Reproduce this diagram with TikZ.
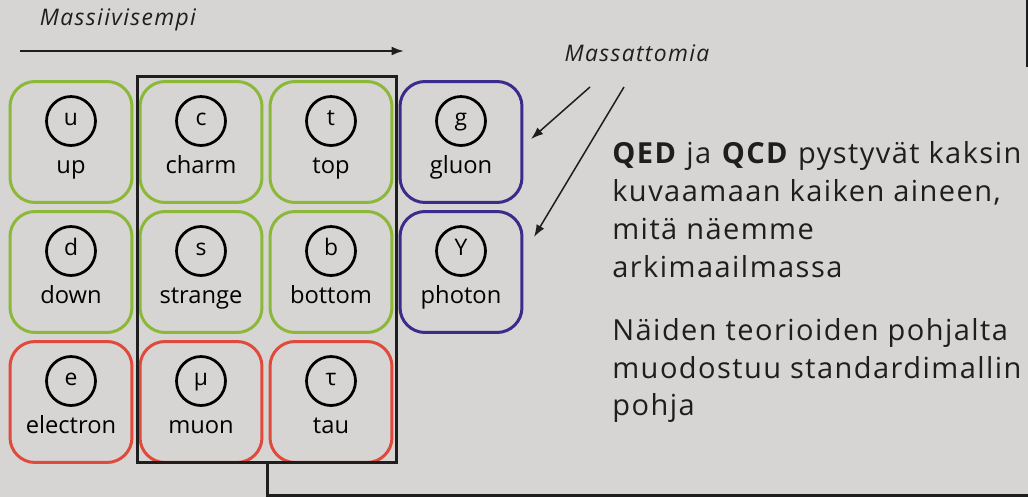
\documentclass[tikz,border=0pt]{standalone}
\usepackage{fontspec}
\setmainfont{Open Sans}
\usetikzlibrary{positioning,arrows.meta}
\definecolor{bg}{RGB}{214,213,211}
\definecolor{qgreen}{RGB}{140,184,56}
\definecolor{lred}{RGB}{224,74,60}
\definecolor{bblue}{RGB}{58,44,138}
\definecolor{ink}{RGB}{30,30,30}
\tikzset{
  partbox/.style={draw, rounded corners=0.5cm, line width=0.06cm, minimum width=2.44cm, minimum height=2.42cm, inner sep=0},
  sym/.style={draw=black, circle, line width=0.055cm, minimum size=0.98cm, inner sep=0, text height=1ex, text depth=0pt, font=\fontsize{13}{15}\selectfont},
  plabel/.style={anchor=base, inner sep=0, font=\fontsize{13.5}{15}\selectfont},
  txt/.style={anchor=base west, inner sep=0, text=ink, font=\fontsize{16.5}{20}\selectfont\addfontfeature{LetterSpace=5}},
  note/.style={text=ink, inner sep=0, font=\itshape\fontsize{13}{15}\selectfont\addfontfeature{LetterSpace=6}},
  tip/.style={-{Latex[length=7pt,width=5pt]}, ink},
}
\begin{document}
\begin{tikzpicture}[x=0.02cm, y=-0.02cm]
\fill[bg] (0,0) rectangle (1028,497);
\useasboundingbox (0,0) rectangle (1028,497);

\node [note] (heavier) at (118,20) {Massiivisempi};
\coordinate (h1) at (20,51);
\coordinate (h2) at (404,51);
\draw [tip, line width=0.04cm] (h1) -- (h2);

\node [partbox, draw=qgreen] (up) at (71,142) {};
\node [sym] at (71,121) {u};
\node [plabel] at (71,173) {up};
\node [partbox, draw=qgreen] (charm) at (201,142) {};
\node [sym] at (201,121) {c};
\node [plabel] at (201,173) {charm};
\node [partbox, draw=qgreen] (top) at (331,142) {};
\node [sym] at (331,121) {t};
\node [plabel] at (331,173) {top};
\node [partbox, draw=bblue] (gluon) at (461,142) {};
\node [sym] at (461,121) {g};
\node [plabel] at (461,173) {gluon};

\node [partbox, draw=qgreen] (down) at (71,272) {};
\node [sym] at (71,251) {d};
\node [plabel] at (71,303) {down};
\node [partbox, draw=qgreen] (strange) at (201,272) {};
\node [sym] at (201,251) {s};
\node [plabel] at (201,303) {strange};
\node [partbox, draw=qgreen] (bottom) at (331,272) {};
\node [sym] at (331,251) {b};
\node [plabel] at (331,303) {bottom};
\node [partbox, draw=bblue] (photon) at (461,272) {};
\node [sym] at (461,251) {Y};
\node [plabel] at (461,303) {photon};

\node [partbox, draw=lred] (electron) at (71,402) {};
\node [sym] at (71,381) {e};
\node [plabel] at (71,433) {electron};
\node [partbox, draw=lred] (muon) at (201,402) {};
\node [sym] at (201,381) {μ};
\node [plabel] at (201,433) {muon};
\node [partbox, draw=lred] (tau) at (331,402) {};
\node [sym] at (331,381) {τ};
\node [plabel] at (331,433) {tau};

% heavier generations
\node [draw=ink, line width=0.06cm, minimum width=5.2cm, minimum height=7.74cm, inner sep=0] (heavy) at (267,269.5) {};
\coordinate (edge) at (1030,495);
\draw [ink, line width=0.06cm] (heavy.south) |- (edge);
\draw [ink, line width=0.06cm] (1027,-2) -- (1027,67);

\node [note] (massless) at (637,53) {Massattomia};
\coordinate (m1) at (590,87);
\coordinate (m2) at (624,87);
\coordinate (g1) at (531,139);
\coordinate (g2) at (534,237);
\draw [tip, line width=0.03cm] (m1) -- (g1);
\draw [tip, line width=0.03cm] (m2) -- (g2);

\node [txt] (l1) at (612,163) {\textbf{QED} ja \textbf{QCD} pystyvät kaksin};
\node [txt] (l2) at (612,201) {kuvaamaan kaiken aineen,};
\node [txt] (l3) at (612,239) {mitä näemme};
\node [txt] (l4) at (612,277) {arkimaailmassa};
\node [txt] (l5) at (612,340) {Näiden teorioiden pohjalta};
\node [txt] (l6) at (612,378) {muodostuu standardimallin};
\node [txt] (l7) at (612,415) {pohja};
\end{tikzpicture}
\end{document}
